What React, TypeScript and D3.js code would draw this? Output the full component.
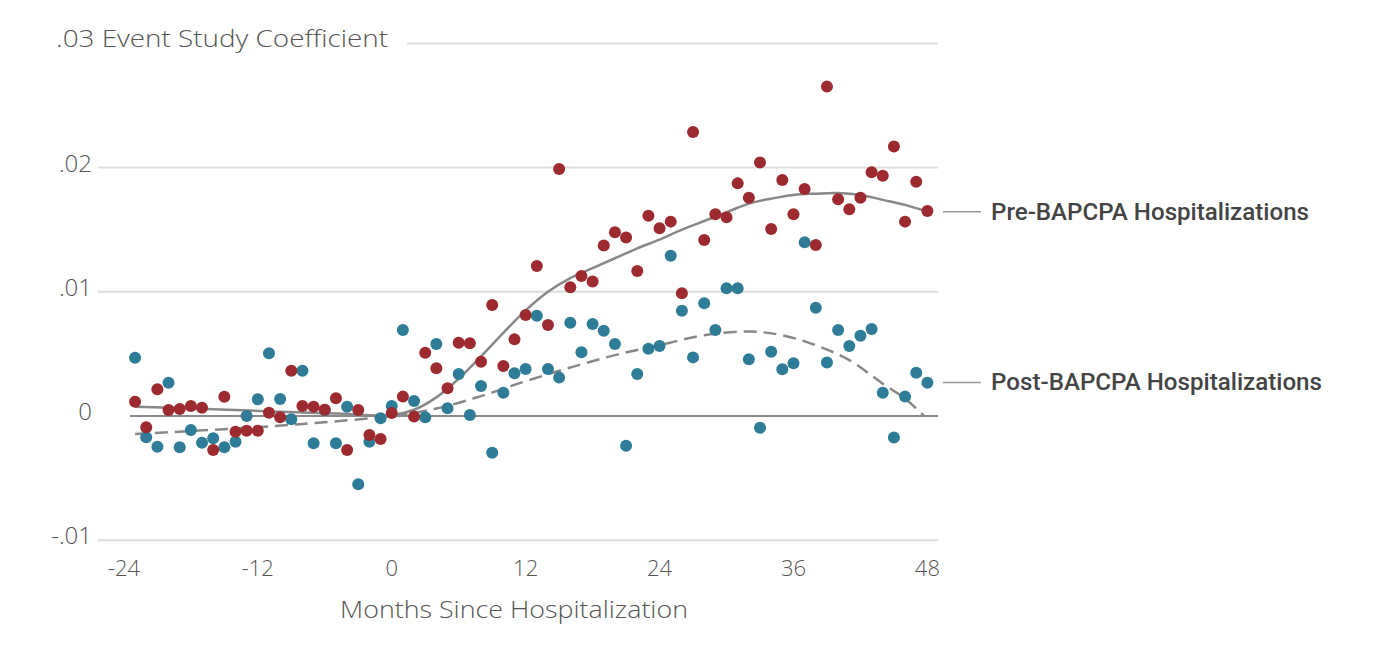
import React from "react";
import * as d3 from "d3";

const firstMonth = -23;
const xTicks = [-24, -12, 0, 12, 24, 36, 48];
const yTicks = [-0.01, 0, 0.01, 0.02, 0.03];
const yTickLabels = ["-.01", "0", ".01", ".02", ".03"];

// Pre-BAPCPA (red) coefficients, months -23..48
const preValues = [
  0.00115, -0.00091, 0.00215, 0.00048, 0.00056, 0.0008, 0.00067, -0.00274, 0.00155, -0.00126,
  -0.00118, -0.00118, 0.00027, -0.0001, 0.00365, 0.0008, 0.00075, 0.0005, 0.00142, -0.00274,
  0.00048, -0.00153, -0.00185, 0.00025, 0.00156, -0.00005, 0.0051, 0.00384, 0.00223, 0.0059,
  0.00585, 0.00437, 0.00894, 0.00403, 0.00617, 0.00813, 0.01208, 0.00733, 0.01989, 0.01036,
  0.01127, 0.01082, 0.01372, 0.01479, 0.01438, 0.01167, 0.01613, 0.01511, 0.01565, 0.00988,
  0.02287, 0.01417, 0.01624, 0.016, 0.01873, 0.01758, 0.02042, 0.01506, 0.019, 0.01624,
  0.01828, 0.01377, 0.02652, 0.01745, 0.01664, 0.01758, 0.01962, 0.01935, 0.02169, 0.01565,
  0.01887, 0.01651,
];

// Post-BAPCPA (teal) coefficients, months -23..48
const postValues = [
  0.00469, -0.00172, -0.00247, 0.00268, -0.00252, -0.00113, -0.00215, -0.0018, -0.00252, -0.00207,
  0.0, 0.00134, 0.00505, 0.00137, -0.00027, 0.00365, -0.0022, 0.00048, -0.0022, 0.00075,
  -0.0055, -0.00207, -0.00019, 0.0008, 0.00692, 0.00121, -0.00011, 0.0058, 0.00062, 0.00338,
  0.00008, 0.00242, -0.00295, 0.00188, 0.00344, 0.00378, 0.00808, 0.00378, 0.00309, 0.00751,
  0.00513, 0.00741, 0.00687, 0.0058, -0.00239, 0.00338, 0.00541, 0.00564, 0.01291, 0.00848,
  0.00472, 0.00907, 0.00692, 0.01028, 0.01028, 0.00456, -0.00094, 0.00518, 0.00376, 0.00424,
  0.01398, 0.00872, 0.0043, 0.00692, 0.00564, 0.00647, 0.007, 0.00188, -0.00174, 0.00156,
  0.00349, 0.00268,
];

// Smoothed fit (solid)
const preFitMonths = [-23, -16, -10, -5, 0, 2, 4, 6, 8, 10, 12, 14, 16, 18, 20, 22, 24, 26, 28, 30, 32, 34, 36, 38, 40, 42, 44, 46, 48];
const preFitValues = [0.00075, 0.00055, 0.00035, 0.0002, 0.00008, 0.0005, 0.0015, 0.003, 0.0048, 0.0067, 0.0085, 0.01, 0.0111, 0.0119, 0.0127, 0.0135, 0.0142, 0.015, 0.0157, 0.0164, 0.0171, 0.0175, 0.0178, 0.0179, 0.01795, 0.0178, 0.0174, 0.017, 0.01645];

// Smoothed fit (dashed)
const postFitMonths = [-23, -12, -6, 0, 4, 8, 12, 16, 20, 24, 28, 32, 35, 38, 41, 44, 46, 47.7];
const postFitValues = [-0.00145, -0.0009, -0.0005, 0.0, 0.0006, 0.0016, 0.0028, 0.0039, 0.0049, 0.0057, 0.0065, 0.0068, 0.0065, 0.0057, 0.0045, 0.0026, 0.0014, 0.0];

const seriesNames = ["Pre-BAPCPA Hospitalizations", "Post-BAPCPA Hospitalizations"];
const legendValues = [0.01645, 0.0027];

const RED = "#9c2a2f";
const TEAL = "#2e7c97";
const LIGHT = "'Open Sans', 'Lato', sans-serif";

export default function App() {
  const x = d3.scaleLinear().domain([-24, 48]).range([123.9, 927.4]);
  const y = d3.scaleLinear().domain([-0.01, 0.03]).range([540.2, 43.4]);

  const line = d3
    .line<[number, number]>()
    .x((d) => x(d[0]))
    .y((d) => y(d[1]))
    .curve(d3.curveCatmullRom.alpha(0.5));

  const preFit: [number, number][] = preFitMonths.map((m, i) => [m, preFitValues[i]]);
  const postFit: [number, number][] = postFitMonths.map((m, i) => [m, postFitValues[i]]);

  return (
    <svg
      width={1376}
      height={655}
      style={{ position: "absolute", left: 0, top: 0, background: "#fff" }}
    >
      {/* gridlines */}
      {yTicks.map((t, i) =>
        t === 0 ? null : (
          <line
            key={"g" + i}
            x1={t === 0.03 ? 407 : 98}
            x2={938}
            y1={y(t)}
            y2={y(t)}
            stroke="#dedede"
            strokeWidth={2}
          />
        )
      )}
      {/* y labels */}
      {yTicks.map((t, i) =>
        t === 0.03 ? (
          <text
            key={"yl" + i}
            x={56}
            y={y(t) + 4}
            fontFamily={LIGHT}
            fontWeight={300}
            fontSize={24}
            fill="#555"
            textLength={332}
            lengthAdjust="spacingAndGlyphs"
          >
            {yTickLabels[i] + " Event Study Coefficient"}
          </text>
        ) : (
          <text key={"yl" + i} x={92} y={y(t) + 4} textAnchor="end" fontFamily={LIGHT} fontWeight={300} fontSize={24} fill="#555">
            {yTickLabels[i]}
          </text>
        )
      )}
      {/* x tick labels */}
      {xTicks.map((t) => (
        <text key={"xl" + t} x={x(t)} y={576} textAnchor="middle" fontFamily={LIGHT} fontWeight={300} fontSize={22} fill="#555">
          {t}
        </text>
      ))}
      <text
        x={340}
        y={618}
        fontFamily={LIGHT}
        fontWeight={300}
        fontSize={24}
        fill="#555"
        textLength={348}
        lengthAdjust="spacingAndGlyphs"
      >
        Months Since Hospitalization
      </text>
      {/* zero line */}
      <line x1={130} x2={938} y1={y(0)} y2={y(0)} stroke="#8a8a8a" strokeWidth={2} />
      {/* fits */}
      <path d={line(preFit) || ""} fill="none" stroke="#888" strokeWidth={2.5} />
      <path d={line(postFit) || ""} fill="none" stroke="#888" strokeWidth={2.5} strokeDasharray="13 7" />
      {/* points */}
      {postValues.map((v, i) => (
        <circle key={"p" + i} cx={x(firstMonth + i)} cy={y(v)} r={6} fill={TEAL} />
      ))}
      {preValues.map((v, i) => (
        <circle key={"r" + i} cx={x(firstMonth + i)} cy={y(v)} r={6} fill={RED} />
      ))}
      {/* legend */}
      {seriesNames.map((name, i) => (
        <g key={"lg" + i}>
          <line x1={943} x2={981} y1={y(legendValues[i])} y2={y(legendValues[i])} stroke="#999" strokeWidth={1.5} />
          <text
            x={991}
            y={y(legendValues[i]) + 8}
            fontFamily="'Roboto', sans-serif"
            fontWeight={500}
            fontSize={24}
            fill="#444"
            textLength={i === 0 ? 318 : 331}
            lengthAdjust="spacingAndGlyphs"
          >
            {name}
          </text>
        </g>
      ))}
    </svg>
  );
}
